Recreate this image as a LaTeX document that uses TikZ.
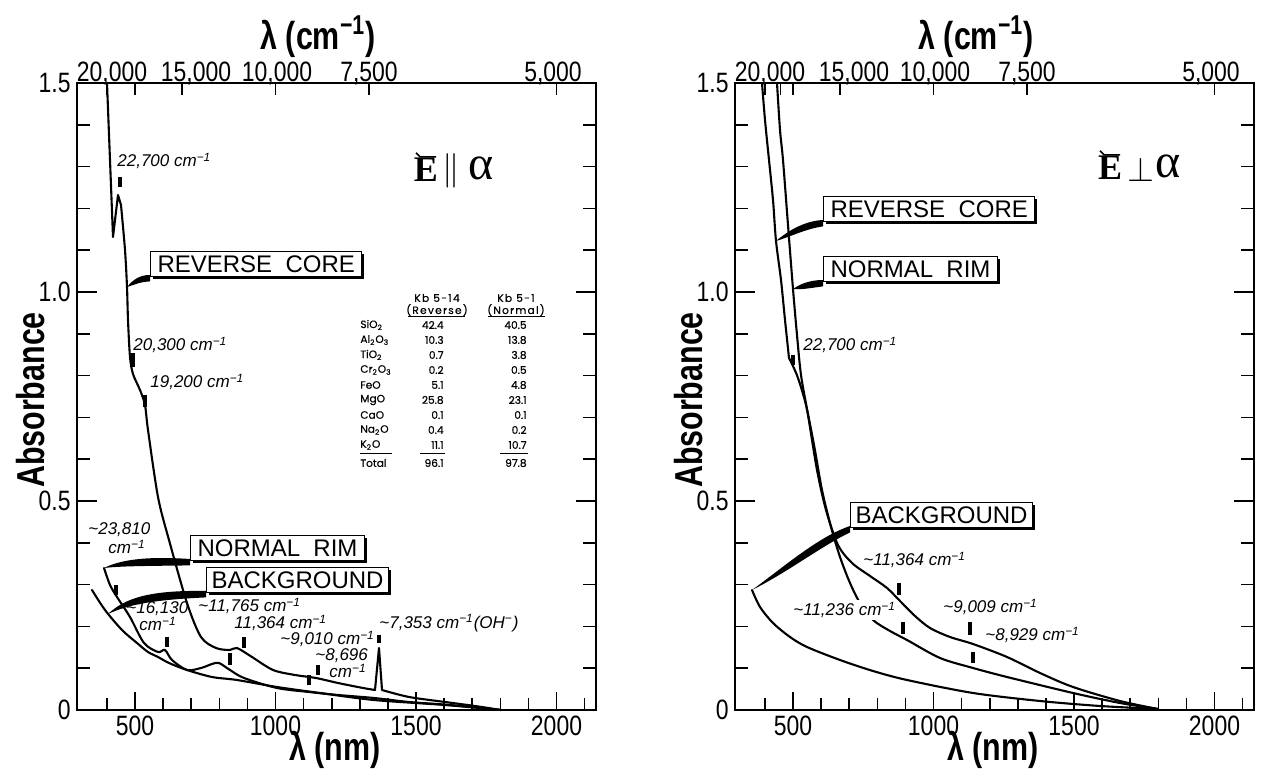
\documentclass[tikz,border=0pt]{standalone}
\usepackage{fontspec}
\setmainfont{Liberation Sans}
\newfontfamily\axfont{Liberation Sans}[FakeStretch=0.78]
\newfontfamily\tickfont{Liberation Sans}[FakeStretch=0.82]
\newfontfamily\tabfont{Poppins}[FakeBold=0.6]
\newfontfamily\tabheadfont{Poppins}[LetterSpace=12,FakeBold=0.6]
\newfontfamily\serifgr{Liberation Serif}
\usetikzlibrary{shadows,backgrounds}
\newcommand{\invcm}{cm\textsuperscript{−1}}
\tikzset{
  frame/.style={line width=0.85pt},
  curve/.style={line width=1.05pt, line join=round, line cap=round},
  axtick/.style={line width=0.8pt},
  pk/.style={line width=1.6pt},
  ann/.style={font=\fontsize{8.5}{9}\selectfont\itshape, inner sep=0pt, anchor=west},
  tlab/.style={font=\tickfont\fontsize{14}{16}\selectfont, inner sep=0pt},
  atitle/.style={font=\axfont\bfseries\fontsize{19.5}{21}\selectfont, inner sep=0pt},
  boxlab/.style={draw, line width=0.5pt, fill=white, inner xsep=3.5pt, inner ysep=1.8pt,
     text height=8.8pt, text depth=0pt, anchor=south west,
     font=\fontsize{12}{14}\selectfont,
     drop shadow={shadow xshift=1.3pt, shadow yshift=-1.3pt, fill=black, opacity=1}},
  leader/.style={fill=black},
  tabc/.style={font=\tabfont\fontsize{5.3}{6}\selectfont, inner sep=0pt},
  tabh/.style={font=\tabheadfont\fontsize{5.3}{6}\selectfont, inner sep=0pt},
  elab/.style={inner sep=0pt},
}
\begin{document}
\begin{tikzpicture}[x=0.5pt,y=-0.5pt]
\useasboundingbox (0,0) rectangle (1265,769);

% ---------- frames ----------
\draw[frame] (77,83) rectangle (596,710);
\draw[frame] (735,83) rectangle (1254,710);

% ---------- axes of both panels ----------
\foreach \ox [count=\p] in {0,658}{
  \foreach \a in {1,2,3,4,6,7,8,9,11,12,13,14}{
    \draw[axtick] ({77+\ox},{710-41.8*\a}) -- ++(13,0);
    \draw[axtick] ({596+\ox},{710-41.8*\a}) -- ++(-13,0);
  }
  \foreach \a in {5,10}{
    \draw[axtick] ({77+\ox},{710-41.8*\a}) -- ++(20,0);
    \draw[axtick] ({596+\ox},{710-41.8*\a}) -- ++(-20,0);
  }
  \foreach \l in {400,600,700,800,900,1100,1200,1300,1400,1600,1700,1800,1900,2100}
    \draw[axtick] ({135+(\l-500)*0.281+\ox},710) -- ++(0,-12);
  \foreach \l in {500,1000,1500,2000}{
    \draw[axtick] ({135+(\l-500)*0.281+\ox},710) -- ++(0,-18);
    \node[tlab] (bl\l-\p) at ({135+(\l-500)*0.281+\ox},726) {\l};
  }
  \foreach \l in {400,500,667,1000,1333,2000}
    \draw[axtick] ({135+(\l-500)*0.281+\ox},83) -- ++(0,12);
  \foreach \xx/\t [count=\i] in {112/{20,000},196/{15,000},277/{10,000},369/{7,500},553/{5,000}}
    \node[tlab] (tl\i-\p) at ({\xx+\ox},74) {\t};
  \foreach \a/\t [count=\i] in {0/0,0.5/0.5,1.0/1.0,1.5/1.5}
    \node[tlab, anchor=east] (yl\i-\p) at ({71+\ox},{710-418*\a}) {\t};
  \node[atitle, rotate=90] (ytit-\p) at ({31+\ox},400) {Absorbance};
  \node[atitle] (xtit-\p) at ({335+\ox},750) {λ (nm)};
  \node[atitle] (ttit-\p) at ({318+\ox},37) {λ (\invcm)};
}
\draw[axtick] ({135+(455-500)*0.281+658},83) -- ++(0,12);

% ---------- left panel curves ----------
\draw[curve] (107,83) -- (113,237) -- (118,195) -- (121,205) -- plot[smooth,tension=0.5] coordinates {(121,205)(125,250)(127,287)(128,320)(130,357)(133,374)(140,390)(145,405)(148,430)(158,497)(169,540)(187,603)(201,637)(216,648)(230,650)(237,648)(252,657)(273,670)(295,675)(316,678)(338,683)(363,688)(375,690)} -- (379,648) -- plot[smooth,tension=0.5] coordinates {(382,690)(409,697)(445,702)(475,706)(501,710)};
\draw[curve] plot[smooth,tension=0.5] coordinates {(104,568)(110,585)(117,597)(130,617)(144,643)(158,652)(165,650)(172,660)(187,670)(201,668)(212,664)(219,663)(230,670)(244,678)(277,688)(309,692)(338,695)(374,698)(409,702)(450,705)(501,710)};
\draw[curve] plot[smooth,tension=0.5] coordinates {(92,590)(105,610)(122,630)(137,643)(148,652)(158,657)(169,663)(187,670)(212,677)(237,680)(277,687)(320,693)(374,700)(445,705)(501,710)};

% ---------- right panel curves ----------
\draw[curve] plot[smooth,tension=0.5] coordinates {(762,83)(765,120)(769,160)(773,200)(776,241)(781,280)(785,320)(789,358)} -- (792,364) -- plot[smooth,tension=0.5] coordinates {(792,364)(798,378)(806,405)(814,445)(822,490)(831,527)(840,557)(850,583)(860,603)(873,620)(890,631)(907,640)(940,658)(973,668)(1007,677)(1073,693)(1120,703)(1158,709)};
\draw[curve] plot[smooth,tension=0.5] coordinates {(777,83)(780,130)(783,160)(788,225)(793,289)(797,335)(801,375)(808,415)(817,470)(826,510)(838,545)(852,563)(870,576)(887,588)(900,601)(915,616)(930,628)(950,637)(973,644)(1007,657)(1040,673)(1073,687)(1120,701)(1158,709)};
\draw[curve] plot[smooth,tension=0.5] coordinates {(752,590)(760,607)(773,623)(790,637)(807,647)(840,660)(873,671)(907,680)(973,693)(1040,701)(1100,706)(1158,709)};

% ---------- leader start points ----------
\coordinate (lrcP) at (127,287);
\coordinate (lnrP) at (104,568);
\coordinate (lbgP) at (108,614);
\coordinate (rrcP) at (776,241);
\coordinate (rnrP) at (793,289);
\coordinate (rbgP) at (752,590);

% ---------- label boxes ----------
\node[boxlab] (lrc) at (150,277) {REVERSE\ \ CORE};
\node[boxlab] (lnr) at (190,561) {NORMAL\ \ RIM};
\node[boxlab, inner xsep=2.5pt] (lbg) at (206,593) {BACKGROUND};
\node[boxlab] (rrc) at (823,222) {REVERSE\ \ CORE};
\node[boxlab] (rnr) at (823,282) {NORMAL\ \ RIM};
\node[boxlab, inner xsep=2.5pt] (rbg) at (850,528) {BACKGROUND};

\begin{scope}[on background layer]
\fill[leader] (lrcP) .. controls (133,280) and (139,275) .. ([yshift=1pt]lrc.south west) -- ([yshift=-2.2pt]lrc.south west) .. controls (139,282) and (134,285) .. (lrcP);
\fill[leader] (lnrP) .. controls (120,560) and (145,556) .. ([yshift=1pt]lnr.south west) -- ([yshift=-2.2pt]lnr.south west) .. controls (145,566) and (122,566) .. (lnrP);
\fill[leader] (lbgP) .. controls (125,598) and (150,590) .. ([yshift=1pt]lbg.south west) -- ([yshift=-2.2pt]lbg.south west) .. controls (150,600) and (128,605) .. (lbgP);
\fill[leader] (rrcP) .. controls (788,231) and (804,221) .. ([yshift=1pt]rrc.south west) -- ([yshift=-2.2pt]rrc.south west) .. controls (805,229) and (790,237) .. (rrcP);
\fill[leader] (rnrP) .. controls (800,284) and (810,280) .. ([yshift=1pt]rnr.south west) -- ([yshift=-2.2pt]rnr.south west) .. controls (810,288) and (801,290) .. (rnrP);
\fill[leader] (rbgP) .. controls (785,566) and (818,537) .. ([yshift=1pt]rbg.south west) -- ([yshift=-2.2pt]rbg.south west) .. controls (820,547) and (788,572) .. (rbgP);
\end{scope}

% ---------- left annotations ----------
\node[ann] (a1) at (117,161) {22,700 \invcm};
\draw[pk] (120,177) -- (120,187);
\node[ann] (a2) at (133,345) {20,300 \invcm};
\draw[pk] (133,353) -- (133,367);
\node[ann] (a3) at (150,382) {19,200 \invcm};
\draw[pk] (145,395) -- (145,407);
\node[ann] (a4) at (88,530) {\char`\~23,810};
\node[ann] (a4b) at (108,547) {\invcm};
\draw[pk] (116,585) -- (116,595);
\node[ann] (a5) at (126,609) {\char`\~16,130};
\node[ann] (a5b) at (139,624) {\invcm};
\draw[pk] (167,637) -- (167,647);
\node[ann] (a6) at (198,606) {\char`\~11,765 \invcm};
\draw[pk] (230,653) -- (230,665);
\node[ann] (a7) at (234,623) {11,364 \invcm};
\draw[pk] (244,637) -- (244,648);
\node[ann] (a8) at (280,639) {\char`\~9,010 \invcm};
\draw[pk] (309,675) -- (309,685);
\node[ann] (a9) at (315,656) {\char`\~8,696};
\node[ann] (a9b) at (329,671) {\invcm};
\draw[pk] (318,665) -- (318,675);
\node[ann] (a10) at (379,623) {\char`\~7,353 \invcm(OH\textsuperscript{−})};
\draw[pk] (379,635) -- (379,643);

% ---------- right annotations ----------
\node[ann] (b1) at (803,345) {22,700 \invcm};
\draw[pk] (793,355) -- (793,365);
\node[ann] (b2) at (863,560) {\char`\~11,364 \invcm};
\draw[pk] (899,583) -- (899,595);
\node[ann, fill=white, inner sep=1pt] (b3) at (791,610) {\char`\~11,236 \invcm};
\draw[pk] (903,622) -- (903,634);
\node[ann] (b4) at (943,607) {\char`\~9,009 \invcm};
\draw[pk] (970,622) -- (970,635);
\node[ann] (b5) at (985,635) {\char`\~8,929 \invcm};
\draw[pk] (973,652) -- (973,663);

% ---------- polarisation labels ----------
\node[elab, font=\serifgr\bfseries\fontsize{18}{20}\selectfont] (eL) at (426,170) {E};
\node[elab, font=\fontsize{17}{19}\selectfont] (parL) at (451,171) {$\parallel$};
\node[elab, font=\serifgr\fontsize{24}{26}\selectfont] (alL) at (481,168) {α};
\draw[line width=0.8pt] ([xshift=-5pt,yshift=2.5pt]eL.north) -- ++(4,4) -- ++(16,0);
\node[elab, font=\serifgr\bfseries\fontsize{18}{20}\selectfont] (eR) at (1110,168) {E};
\node[elab, font=\fontsize{17}{19}\selectfont] (perpR) at (1141,170) {$\perp$};
\node[elab, font=\serifgr\fontsize{24}{26}\selectfont] (alR) at (1168,166) {α};
\draw[line width=0.8pt] ([xshift=-5pt,yshift=2.5pt]eR.north) -- ++(4,4) -- ++(16,0);

% ---------- composition table ----------
\node[tabh] (h1) at (437,298) {Kb 5-14};
\node[tabh] (h2) at (437,310) {(Reverse)};
\node[tabh] (h3) at (516,298) {Kb 5-1};
\node[tabh] (h4) at (516,310) {(Normal)};
\draw[line width=0.5pt] (408,317) -- (465,317);
\draw[line width=0.5pt] (488,317) -- (545,317);
\foreach \oxd/\va/\vb [count=\i] in {SiO\textsubscript{2}/42.4/40.5, Al\textsubscript{2}O\textsubscript{3}/10.3/13.8, TiO\textsubscript{2}/0.7/3.8, Cr\textsubscript{2}O\textsubscript{3}/0.2/0.5, FeO/5.1/4.8, MgO/25.8/23.1, CaO/0.1/0.1, Na\textsubscript{2}O/0.4/0.2, K\textsubscript{2}O/11.1/10.7}{
  \node[tabc, anchor=west] (ox\i) at (360,{325+15*(\i-1)}) {\oxd};
  \node[tabc, anchor=east] (va\i) at (444,{325+15*(\i-1)}) {\va};
  \node[tabc, anchor=east] (vb\i) at (527,{325+15*(\i-1)}) {\vb};
}
\draw[line width=0.5pt] (360,454) -- (392,454);
\draw[line width=0.5pt] (420,454) -- (445,454);
\draw[line width=0.5pt] (500,454) -- (528,454);
\node[tabc, anchor=west] (oxT) at (360,463) {Total};
\node[tabc, anchor=east] (vaT) at (444,463) {96.1};
\node[tabc, anchor=east] (vbT) at (527,463) {97.8};
\end{tikzpicture}
\end{document}
